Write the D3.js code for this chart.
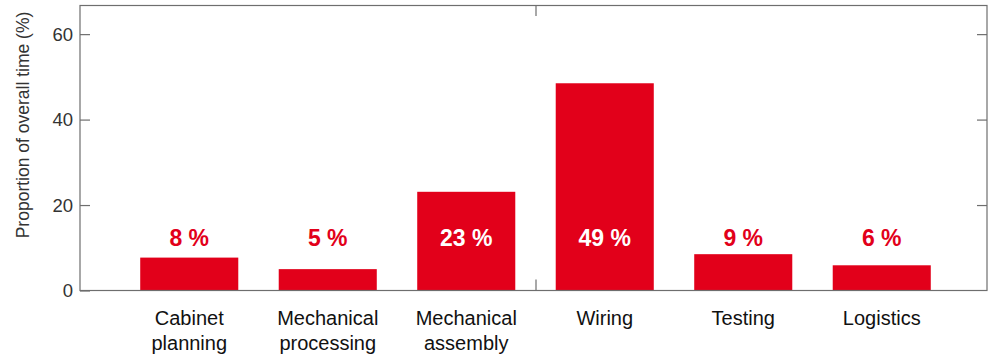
<!DOCTYPE html>
<html>
<head>
<meta charset="utf-8">
<script src="https://cdn.jsdelivr.net/npm/d3@7"></script>
<style>
  html, body { margin: 0; padding: 0; background: #fff; }
  svg { display: block; font-family: "Liberation Sans", Arial, Helvetica, sans-serif; }
</style>
</head>
<body>
<svg id="chart" width="1000" height="357"></svg>
<script>
const categories = [["Cabinet", "planning"], ["Mechanical", "processing"], ["Mechanical", "assembly"], ["Wiring"], ["Testing"], ["Logistics"]];
const values = [7.7, 5.0, 23.1, 48.5, 8.5, 5.9];
const valueLabels = ["8 %", "5 %", "23 %", "49 %", "9 %", "6 %"];
const yTicks = [0, 20, 40, 60];
const yTitle = "Proportion of overall time (%)";

const svg = d3.select("#chart");
const plotLeft = 80, plotRight = 987, plotTop = 5.5, plotBottom = 290.5;
const red = "#e2001a";

const keys = categories.map(c => c.join(" "));
const x = d3.scaleBand().domain(keys).range([120, 951]).paddingInner(0.292).paddingOuter(0.146);
const y = d3.scaleLinear().domain([0, 66.7]).range([plotBottom, plotTop]);

// bars
svg.append("g").selectAll("rect").data(values).join("rect")
  .attr("x", (d, i) => x(keys[i]))
  .attr("width", x.bandwidth())
  .attr("y", d => y(d))
  .attr("height", d => y(0) - y(d))
  .attr("fill", red);

// frame
svg.append("rect").attr("x", plotLeft).attr("y", plotTop).attr("width", plotRight - plotLeft).attr("height", plotBottom - plotTop)
  .attr("fill", "none").attr("stroke", "#6e6e6e").attr("stroke-width", 1.2);

// left axis
const yAxisL = svg.append("g").attr("transform", `translate(${plotLeft},0)`)
  .call(d3.axisLeft(y).tickValues(yTicks).tickSize(-10).tickPadding(8).tickFormat(d3.format("d")));
yAxisL.select(".domain").remove();
yAxisL.selectAll(".tick line").attr("stroke", "#6e6e6e").attr("stroke-width", 1.2);
yAxisL.selectAll(".tick text").attr("x", -7).attr("fill", "#333").attr("font-size", 18.5).attr("dy", "0.34em");

// right axis
const yAxisR = svg.append("g").attr("transform", `translate(${plotRight},0)`)
  .call(d3.axisRight(y).tickValues(yTicks.filter(t => t > 0)).tickSize(-10).tickFormat(""));
yAxisR.select(".domain").remove();
yAxisR.selectAll(".tick line").attr("stroke", "#6e6e6e").attr("stroke-width", 1.2);

// top and bottom center ticks
const midX = 536;
svg.append("line").attr("x1", midX).attr("x2", midX).attr("y1", plotTop).attr("y2", plotTop + 10.5).attr("stroke", "#6e6e6e").attr("stroke-width", 1.2);
svg.append("line").attr("x1", midX).attr("x2", midX).attr("y1", plotBottom).attr("y2", plotBottom - 11).attr("stroke", "#6e6e6e").attr("stroke-width", 1.2);

// value labels
svg.append("g").selectAll("text").data(values).join("text")
  .attr("x", (d, i) => x(keys[i]) + x.bandwidth() / 2)
  .attr("y", 246)
  .attr("text-anchor", "middle")
  .attr("font-size", 23)
  .attr("font-weight", "bold")
  .attr("fill", d => y(d) < 228 ? "#fff" : red)
  .text((d, i) => valueLabels[i]);

// category labels
const cat = svg.append("g").selectAll("text").data(categories).join("text")
  .attr("x", (d, i) => x(keys[i]) + x.bandwidth() / 2)
  .attr("y", 324.5)
  .attr("text-anchor", "middle")
  .attr("font-size", 20)
  .attr("fill", "#111");
cat.selectAll("tspan").data(d => d).join("tspan")
  .attr("x", function() { return d3.select(this.parentNode).attr("x"); })
  .attr("dy", (d, i) => i === 0 ? 0 : 25.5)
  .text(d => d);

// y title
svg.append("text")
  .attr("transform", `translate(29,125) rotate(-90)`)
  .attr("text-anchor", "middle")
  .attr("font-size", 17.5)
  .attr("fill", "#333")
  .text(yTitle);
</script>
</body>
</html>
